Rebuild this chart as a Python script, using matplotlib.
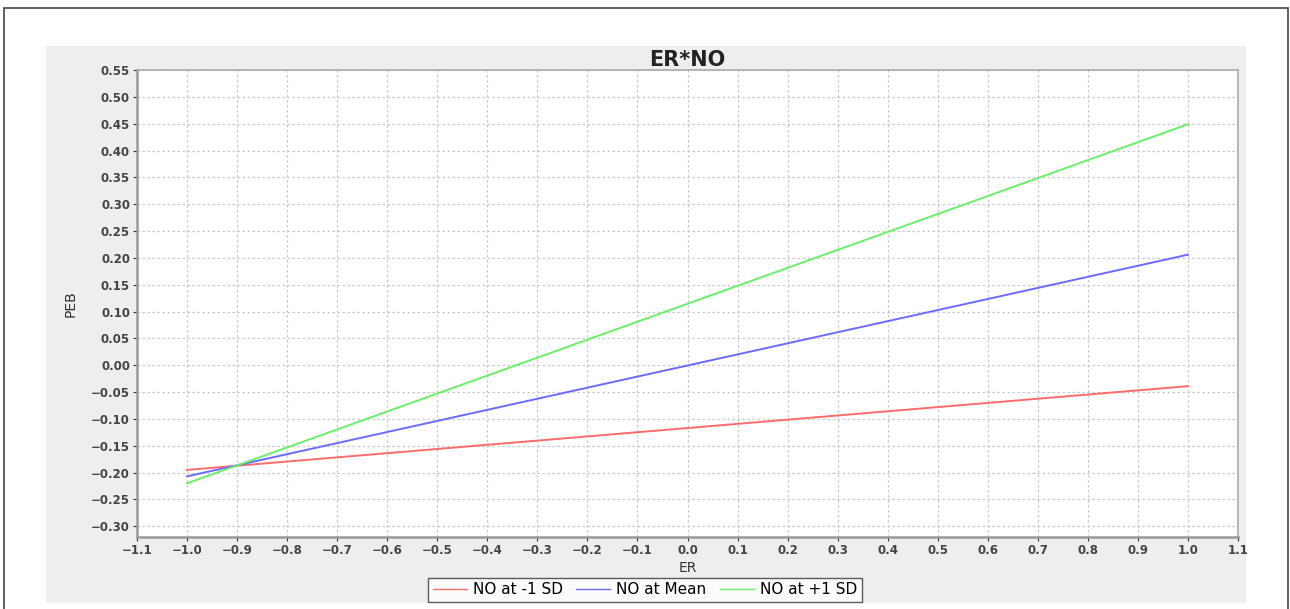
import matplotlib
matplotlib.use('Agg')
import matplotlib.pyplot as plt
from matplotlib.patches import Rectangle
import numpy as np

# data
er = [-1.0, 1.0]
no_low = [-0.195, -0.039]
no_mean = [-0.207, 0.206]
no_high = [-0.220, 0.449]
labels = ['NO at -1 SD', 'NO at Mean', 'NO at +1 SD']
colors = ['#ff6b6b', '#6b6bff', '#6bef6b']

fig = plt.figure(figsize=(12.9, 6.09), dpi=100)

# outer frame and gray panel
fig.patches.append(Rectangle((4/1290, -0.01), 1284/1290, 1.01 - 8/609,
                             transform=fig.transFigure, facecolor='white',
                             edgecolor='#444444', linewidth=1.2, zorder=-2))
fig.patches.append(Rectangle((46/1290, 6/609), 1200/1290, 557/609,
                             transform=fig.transFigure, facecolor='#eeeeee',
                             edgecolor='none', zorder=-1))

ax = fig.add_axes([137/1290, 1 - 537/609, 1101/1290, 467/609])
ax.set_facecolor('white')

lines = []
for y, c, lab in zip([no_low, no_mean, no_high], colors, labels):
    l, = ax.plot(er, y, color=c, linewidth=1.4, label=lab)
    lines.append(l)


def fmt(v, nd):
    s = f'{v:.{nd}f}'
    if float(s) == 0:
        s = s.lstrip('-')
    return s.replace('-', '\u2212')


ax.set_xlim(-1.1, 1.1)
ax.set_ylim(-0.32, 0.55)
xt = np.round(np.arange(-1.1, 1.11, 0.1), 1)
yt = np.round(np.arange(-0.30, 0.551, 0.05), 2)
ax.set_xticks(xt)
ax.set_yticks(yt)
ax.set_xticklabels([fmt(v, 1) for v in xt])
ax.set_yticklabels([fmt(v, 2) for v in yt])
ax.tick_params(labelsize=8.5, colors='#333333', length=3, width=0.8, pad=2)
for lab in ax.get_xticklabels() + ax.get_yticklabels():
    lab.set_fontweight('bold')
    lab.set_color('#444444')

ax.grid(True, color='#c8c8c8', linestyle=(0, (2, 2)), linewidth=0.9)
for s in ['left', 'bottom']:
    ax.spines[s].set_color('#999999')
    ax.spines[s].set_linewidth(1.8)
for s in ['top', 'right']:
    ax.spines[s].set_color('#aaaaaa')
    ax.spines[s].set_linewidth(1.2)

ax.set_title('ER*NO', fontsize=15, fontweight='bold', color='#222222', pad=2)
ax.set_xlabel('ER', fontsize=10, color='#333333', labelpad=3)
ax.set_ylabel('PEB', fontsize=10, color='#333333', labelpad=10)

leg = fig.legend(handles=lines, labels=labels, loc='center',
                 bbox_to_anchor=(645/1290, 1 - 590/609), ncol=3,
                 frameon=True, fancybox=False, fontsize=11,
                 handlelength=2.2, handletextpad=0.4, columnspacing=0.9,
                 borderpad=0.3, edgecolor='#333333')
leg.get_frame().set_linewidth(1.0)
for l in leg.get_lines():
    l.set_linewidth(1.0)

fig.savefig('out.png', dpi=100)
